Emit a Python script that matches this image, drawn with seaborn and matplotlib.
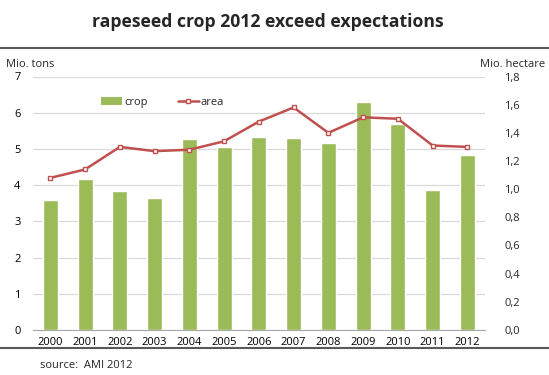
import matplotlib
matplotlib.use("Agg")
import matplotlib.pyplot as plt
import seaborn as sns
import pandas as pd
from matplotlib.lines import Line2D
from matplotlib.patches import Patch
from matplotlib.ticker import FuncFormatter

# ---- data ----
years = ["2000", "2001", "2002", "2003", "2004", "2005", "2006",
         "2007", "2008", "2009", "2010", "2011", "2012"]
crop = [3.59, 4.16, 3.85, 3.64, 5.28, 5.05, 5.34, 5.31, 5.16, 6.29, 5.70, 3.87, 4.82]
area = [1.08, 1.14, 1.30, 1.27, 1.28, 1.34, 1.48, 1.58, 1.40, 1.51, 1.50, 1.31, 1.30]

GREEN = "#9BBB59"
RED = "#C0504D"

sns.set_style("white")
plt.rcParams["font.family"] = ["Open Sans", "DejaVu Sans"]

df = pd.DataFrame({"year": years, "crop": crop, "area": area})

fig = plt.figure(figsize=(5.49, 3.75), dpi=100)
ax = fig.add_axes([0.060, 0.12, 0.823, 0.676])

# bars: crop in Mio. tons
sns.barplot(data=df, x="year", y="crop", color=GREEN, width=0.43,
            saturation=1, ax=ax, zorder=2)
ax.set_ylim(0, 7)
ax.set_yticks(range(0, 8))
ax.yaxis.grid(True, color="#D9D9D9", linewidth=0.9, zorder=0)
ax.set_axisbelow(True)
ax.set_xlabel("")
ax.set_ylabel("")
for s in ["top", "right", "left"]:
    ax.spines[s].set_visible(False)
ax.spines["bottom"].set_color("#A6A6A6")
ax.tick_params(axis="both", length=0, labelsize=8, colors="#000000")
ax.tick_params(axis="y", pad=9)
ax.tick_params(axis="x", pad=5)

# line: area in Mio. hectare on secondary axis
ax2 = ax.twinx()
sns.pointplot(data=df, x="year", y="area", color=RED, markers="s",
              linewidth=1.8, markersize=3.5, ax=ax2)
for ln in ax2.lines:
    ln.set_markerfacecolor("white")
    ln.set_markeredgecolor(RED)
    ln.set_markeredgewidth(1.0)
ax2.set_ylim(0, 1.8)
ax2.set_yticks([i * 0.2 for i in range(10)])
ax2.yaxis.set_major_formatter(FuncFormatter(lambda v, p: f"{v:.1f}".replace(".", ",")))
ax2.set_ylabel("")
ax2.set_xlabel("")
for s in ["top", "right", "left", "bottom"]:
    ax2.spines[s].set_visible(False)
ax2.tick_params(axis="y", length=0, labelsize=8, pad=14)

# legend
handles = [Patch(facecolor=GREEN, edgecolor="none"),
           Line2D([], [], color=RED, linewidth=1.8, marker="s", markersize=3.5,
                  markerfacecolor="white", markeredgecolor=RED)]
fig.legend(handles, ["crop", "area"], ncol=2, frameon=False, fontsize=8,
           loc="center", bbox_to_anchor=(0.296, 0.726), handlelength=1.9,
           handleheight=0.7, columnspacing=2.7, handletextpad=0.15)

# titles and axis captions
fig.text(0.487, 0.941, "rapeseed crop 2012 exceed expectations", ha="center",
         va="center", fontsize=12.7, fontweight="bold")
fig.text(0.011, 0.829, "Mio. tons", ha="left", va="center", fontsize=8)
fig.text(0.993, 0.829, "Mio. hectare", ha="right", va="center", fontsize=8)
fig.text(0.073, 0.025, "source:  AMI 2012", ha="left", va="center", fontsize=8)

# frame lines at top and bottom
fig.add_artist(Line2D([0, 1], [0.872, 0.872], transform=fig.transFigure,
                      color="#595959", linewidth=1.5))
fig.add_artist(Line2D([0, 1], [0.072, 0.072], transform=fig.transFigure,
                      color="#595959", linewidth=1.5))

fig.savefig("out.png", dpi=100)
